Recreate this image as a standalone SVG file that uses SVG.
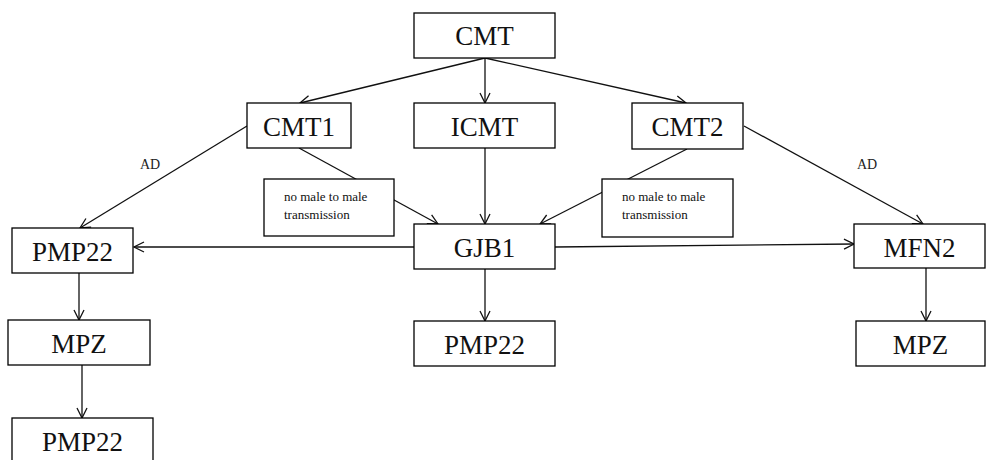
<svg xmlns="http://www.w3.org/2000/svg" width="987" height="460" viewBox="0 0 987 460">
<defs>
<style>
.box{fill:#fff;stroke:#000;stroke-width:1.3}
.lbl{font-family:"Liberation Serif","Times New Roman",serif;font-size:27px;text-anchor:middle;fill:#111}
.note{font-family:"Liberation Serif","Times New Roman",serif;font-size:13px;fill:#111}
.ad{font-family:"Liberation Serif","Times New Roman",serif;font-size:14px;fill:#222}
.edge{stroke:#111;stroke-width:1.3;fill:none;marker-end:url(#arr)}
</style>
<marker id="arr" viewBox="0 0 12 12" refX="11" refY="6" markerWidth="12" markerHeight="12" markerUnits="userSpaceOnUse" orient="auto">
<path d="M1,1 L11,6 L1,11" fill="none" stroke="#111" stroke-width="1.3"/>
</marker>
</defs>
<rect width="987" height="460" fill="#fff"/>
<g id="connectors">
<line class="edge" x1="485" y1="58" x2="485" y2="103"/>
<line class="edge" x1="485" y1="58" x2="300" y2="103"/>
<line class="edge" x1="485" y1="58" x2="686" y2="103"/>
<line class="edge" x1="247" y1="126" x2="80" y2="228"/>
<line class="edge" x1="299" y1="148" x2="438" y2="224"/>
<line class="edge" x1="485" y1="148" x2="485" y2="224"/>
<line class="edge" x1="687" y1="149" x2="540" y2="224"/>
<line class="edge" x1="744" y1="126" x2="923" y2="224"/>
<line class="edge" x1="414" y1="247" x2="134" y2="247"/>
<line class="edge" x1="555" y1="247" x2="854" y2="244"/>
<line class="edge" x1="79" y1="273" x2="79" y2="320"/>
<line class="edge" x1="82" y1="365" x2="82" y2="418"/>
<line class="edge" x1="485" y1="269" x2="485" y2="321"/>
<line class="edge" x1="926" y1="268" x2="926" y2="321"/>
<text class="ad" x="140" y="169">AD</text>
<text class="ad" x="857" y="169">AD</text>
</g>
<g id="note1">
<rect class="box" x="264" y="179" width="130" height="57"/>
<text class="note" x="284" y="201">no male to male</text>
<text class="note" x="284" y="219">transmission</text>
</g>
<g id="note2">
<rect class="box" x="602" y="179" width="131" height="58"/>
<text class="note" x="622" y="201">no male to male</text>
<text class="note" x="622" y="219">transmission</text>
</g>
<g id="CMT"><rect class="box" x="414" y="13" width="141" height="45"/><text class="lbl" x="484.5" y="45">CMT</text></g>
<g id="CMT1"><rect class="box" x="247" y="103" width="104" height="45"/><text class="lbl" x="299" y="136">CMT1</text></g>
<g id="ICMT"><rect class="box" x="414" y="103" width="141" height="45"/><text class="lbl" x="484.5" y="136">ICMT</text></g>
<g id="CMT2"><rect class="box" x="632" y="103" width="111" height="46"/><text class="lbl" x="687.5" y="136">CMT2</text></g>
<g id="GJB1"><rect class="box" x="414" y="224" width="141" height="45"/><text class="lbl" x="484.5" y="257">GJB1</text></g>
<g id="PMP22a"><rect class="box" x="12" y="228" width="121" height="45"/><text class="lbl" x="72.5" y="261">PMP22</text></g>
<g id="MPZa"><rect class="box" x="8" y="320" width="142" height="45"/><text class="lbl" x="79" y="353">MPZ</text></g>
<g id="PMP22b"><rect class="box" x="12" y="418" width="141" height="45"/><text class="lbl" x="82.5" y="451">PMP22</text></g>
<g id="PMP22c"><rect class="box" x="414" y="321" width="141" height="45"/><text class="lbl" x="484.5" y="354">PMP22</text></g>
<g id="MFN2"><rect class="box" x="854" y="224" width="131" height="44"/><text class="lbl" x="919.5" y="257">MFN2</text></g>
<g id="MPZb"><rect class="box" x="856" y="321" width="129" height="45"/><text class="lbl" x="920.5" y="354">MPZ</text></g>
</svg>
